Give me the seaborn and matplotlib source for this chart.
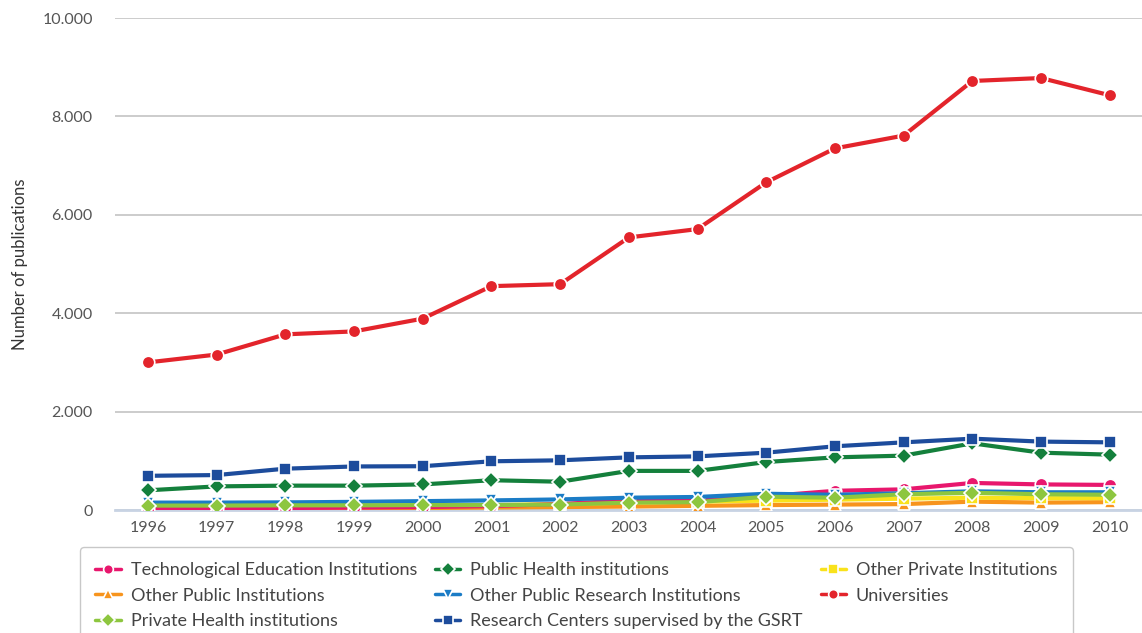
import numpy as np
import pandas as pd
import matplotlib.pyplot as plt
import seaborn as sns
from matplotlib.ticker import FuncFormatter, FixedLocator

sns.set_style("white")
plt.rcParams['font.family'] = ['Lato', 'DejaVu Sans']

# data
years = list(range(1996, 2011))
universities = [3000, 3160, 3570, 3630, 3890, 4550, 4590, 5540, 5710, 6660, 7350, 7610, 8720, 8780, 8430]
research_centers = [695, 710, 840, 885, 890, 990, 1010, 1070, 1090, 1165, 1295, 1375, 1450, 1390, 1375]
public_health = [400, 480, 495, 495, 520, 605, 575, 795, 795, 975, 1070, 1105, 1355, 1165, 1125]
tech_education = [30, 35, 40, 50, 60, 80, 120, 200, 230, 280, 390, 420, 550, 520, 510]
other_public_research = [150, 150, 155, 165, 180, 195, 215, 250, 265, 330, 310, 340, 380, 360, 360]
private_health = [90, 90, 95, 95, 100, 100, 110, 150, 160, 270, 250, 320, 350, 320, 310]
other_private = [50, 55, 60, 70, 80, 100, 120, 150, 170, 190, 210, 230, 250, 240, 240]
other_public = [20, 25, 30, 35, 40, 50, 60, 70, 85, 100, 110, 120, 170, 150, 160]

series = {
    'Technological Education Institutions': (tech_education, '#E8176D', 'o'),
    'Public Health institutions': (public_health, '#14803C', 'D'),
    'Other Private Institutions': (other_private, '#F9E21B', 's'),
    'Other Public Institutions': (other_public, '#F7941D', '^'),
    'Other Public Research Institutions': (other_public_research, '#1B7CC6', 'v'),
    'Universities': (universities, '#E3242B', 'o'),
    'Private Health institutions': (private_health, '#8DC63F', 'D'),
    'Research Centers supervised by the GSRT': (research_centers, '#1D4C9C', 's'),
}
draw_order = ['Other Public Institutions', 'Other Private Institutions',
              'Technological Education Institutions', 'Other Public Research Institutions',
              'Private Health institutions', 'Public Health institutions',
              'Research Centers supervised by the GSRT', 'Universities']

fig = plt.figure(figsize=(11.42, 6.33), dpi=100)
ax = fig.add_axes([115 / 1142, 1 - 510 / 633, 1 - 115 / 1142, (510 - 18) / 633])

handles = {}
for z, name in enumerate(draw_order):
    vals, col, mk = series[name]
    df = pd.DataFrame({'year': years, 'value': vals})
    msize = 8 if mk == 'D' else 9
    sns.lineplot(data=df, x='year', y='value', ax=ax, color=col, linewidth=3,
                 marker=mk, markersize=msize, markeredgecolor='white',
                 markeredgewidth=1.2, zorder=3 + z, label=name)
    handles[name] = ax.get_lines()[-1]
ax.get_legend().remove()

ax.set_xlim(1995.52, 2010.47)
ax.set_ylim(0, 10000)
ax.set_yticks(np.arange(0, 10001, 2000))
ax.yaxis.set_major_formatter(FuncFormatter(lambda v, p: f'{int(v):,}'.replace(',', '.')))
ax.set_xticks(years)
ax.xaxis.set_minor_locator(FixedLocator([y + 0.5 for y in years[:-1]]))
ax.tick_params(axis='x', which='major', length=0, pad=8, labelsize=11.5, labelcolor='#555555')
ax.tick_params(axis='x', which='minor', length=6, width=1.5, color='#C8D3E3', direction='out')
ax.tick_params(axis='y', length=0, pad=16, labelsize=11.5, labelcolor='#555555')
ax.grid(axis='y', color='#C4C4C4', linewidth=1.2)
ax.grid(axis='x', visible=False)
for s in ['top', 'right', 'left']:
    ax.spines[s].set_visible(False)
ax.spines['bottom'].set_color('#C8D3E3')
ax.spines['bottom'].set_linewidth(2)
ax.spines['bottom'].set_zorder(2)
ax.set_xlabel('')
ax.set_ylabel('Number of publications', fontsize=12, color='#333333')
ax.yaxis.set_label_coords(-0.085, 0.5)

# legend: matplotlib fills column-wise, reference fills row-wise
leg_order = ['Technological Education Institutions', 'Other Public Institutions',
             'Private Health institutions', 'Public Health institutions',
             'Other Public Research Institutions', 'Research Centers supervised by the GSRT',
             'Other Private Institutions', 'Universities']
leg = fig.legend([handles[n] for n in leg_order], leg_order, ncol=3,
                 loc='upper left', bbox_to_anchor=(80 / 1142, 1 - 547 / 633),
                 borderaxespad=0, frameon=True, fancybox=True, edgecolor='#BBBBBB',
                 fontsize=13, labelcolor='#444444', handlelength=1.4, handletextpad=0.55,
                 columnspacing=1.0, labelspacing=0.52, borderpad=0.85)
leg.get_frame().set_linewidth(1)
for h in leg.legend_handles:
    h.set_linewidth(2.5)
    h.set_markersize(7)

fig.savefig('out.png', dpi=100)
